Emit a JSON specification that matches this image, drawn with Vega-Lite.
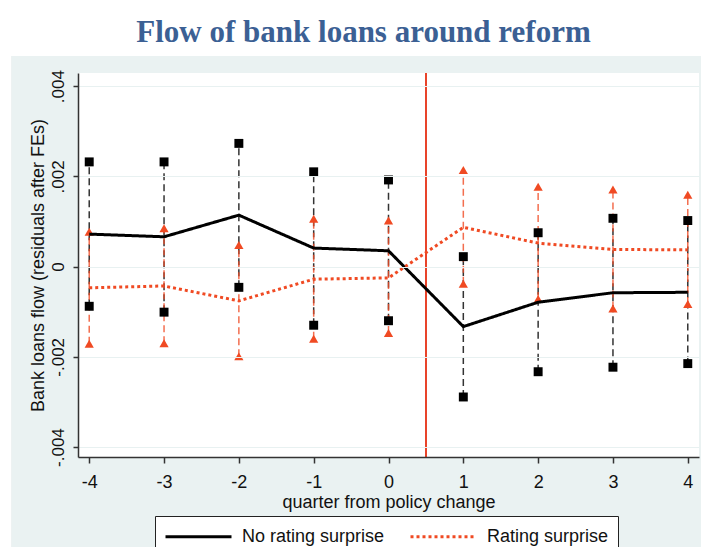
{
  "$schema": "https://vega.github.io/schema/vega-lite/v6.json",
  "width": 621,
  "height": 384,
  "autosize": {"type": "none"},
  "padding": {"left": 78, "top": 73, "right": 2, "bottom": 90},
  "background": "#ffffff",
  "title": {
    "text": "Flow of bank loans around reform",
    "font": "Liberation Serif",
    "fontSize": 31,
    "fontWeight": "bold",
    "color": "#3B6094",
    "anchor": "middle",
    "frame": "group",
    "dx": -25,
    "offset": 7
  },
  "config": {
    "view": {"stroke": null, "fill": "#ffffff"},
    "font": "Liberation Sans",
    "axis": {
      "zindex": 1,
      "domainColor": "#333333",
      "domainWidth": 1.5,
      "tickColor": "#333333",
      "tickWidth": 1.5,
      "labelColor": "#111111",
      "titleColor": "#111111",
      "labelFont": "Liberation Sans",
      "titleFont": "Liberation Sans",
      "titleFontWeight": "normal"
    },
    "legend": {
      "orient": "none",
      "legendX": 77,
      "legendY": 443,
      "direction": "horizontal",
      "fillColor": "#ffffff",
      "strokeColor": "#222222",
      "padding": 9,
      "symbolType": "M-1,0H5.6",
      "symbolSize": 400,
      "symbolStrokeWidth": 3,
      "labelFontSize": 18,
      "labelFont": "Liberation Sans",
      "labelColor": "#111111",
      "labelOffset": 55,
      "columnPadding": 19
    }
  },
  "data": {
    "values": [
      {"q": -4, "series": "No rating surprise", "est": 0.00072, "lo": -0.00088, "hi": 0.00232},
      {"q": -3, "series": "No rating surprise", "est": 0.00066, "lo": -0.00101, "hi": 0.00232},
      {"q": -2, "series": "No rating surprise", "est": 0.00114, "lo": -0.00046, "hi": 0.00273},
      {"q": -1, "series": "No rating surprise", "est": 0.00041, "lo": -0.00130, "hi": 0.00210},
      {"q": 0, "series": "No rating surprise", "est": 0.00035, "lo": -0.00120, "hi": 0.00192},
      {"q": 1, "series": "No rating surprise", "est": -0.00133, "lo": -0.00289, "hi": 0.00022},
      {"q": 2, "series": "No rating surprise", "est": -0.00079, "lo": -0.00233, "hi": 0.00075},
      {"q": 3, "series": "No rating surprise", "est": -0.00058, "lo": -0.00223, "hi": 0.00107},
      {"q": 4, "series": "No rating surprise", "est": -0.00057, "lo": -0.00215, "hi": 0.00102},
      {"q": -4, "series": "Rating surprise", "est": -0.00047, "lo": -0.00171, "hi": 0.00077},
      {"q": -3, "series": "Rating surprise", "est": -0.00043, "lo": -0.00170, "hi": 0.00085},
      {"q": -2, "series": "Rating surprise", "est": -0.00076, "lo": -0.00199, "hi": 0.00048},
      {"q": -1, "series": "Rating surprise", "est": -0.00028, "lo": -0.00160, "hi": 0.00106},
      {"q": 0, "series": "Rating surprise", "est": -0.00025, "lo": -0.00147, "hi": 0.00102},
      {"q": 1, "series": "Rating surprise", "est": 0.00087, "lo": -0.00038, "hi": 0.00214},
      {"q": 2, "series": "Rating surprise", "est": 0.00052, "lo": -0.00072, "hi": 0.00177},
      {"q": 3, "series": "Rating surprise", "est": 0.00038, "lo": -0.00093, "hi": 0.00171},
      {"q": 4, "series": "Rating surprise", "est": 0.00037, "lo": -0.00083, "hi": 0.00159}
    ]
  },
  "encoding": {
    "x": {
      "field": "q",
      "type": "quantitative",
      "scale": {"domain": [-4.15, 4.15], "nice": false, "zero": false},
      "axis": {
        "zindex": 1,
        "values": [-4, -3, -2, -1, 0, 1, 2, 3, 4],
        "labelExpr": "(datum.value < 0 ? '-' : '') + abs(datum.value)",
        "title": "quarter from policy change",
        "grid": false,
        "tickSize": 6,
        "labelPadding": 10,
        "labelFontSize": 18,
        "titleFontSize": 18,
        "titlePadding": 2
      }
    }
  },
  "layer": [
    {
      "description": "graph region backdrop behind the plot",
      "mark": {"type": "rect", "fill": "#EAF2F2", "clip": false},
      "encoding": {
        "x": {"datum": -5.035, "type": "quantitative"},
        "x2": {"datum": 5.5},
        "y": {"datum": 0.004669, "type": "quantitative"},
        "y2": {"datum": -0.009}
      }
    },
    {
      "description": "white plot region",
      "mark": {"type": "rect", "fill": "#ffffff"},
      "encoding": {
        "x": {"value": 0},
        "x2": {"value": "width"},
        "y": {"value": 0},
        "y2": {"value": "height"}
      }
    },
    {
      "description": "policy change marker between quarter 0 and 1",
      "mark": {"type": "rule", "color": "#E8442B", "strokeWidth": 1.6},
      "encoding": {"x": {"datum": 0.5, "type": "quantitative"}}
    },
    {
      "mark": {"type": "rule", "strokeWidth": 1.5, "strokeDash": [7, 4], "opacity": 0.8},
      "encoding": {
        "y": {
          "field": "lo",
          "type": "quantitative",
          "scale": {"domain": [-0.00422, 0.00429], "nice": false, "zero": false},
          "axis": {
            "zindex": 1,
            "values": [-0.004, -0.002, 0, 0.002, 0.004],
            "labelExpr": "datum.value == 0 ? '0' : (datum.value < 0 ? '-' : '') + slice(format(abs(datum.value), '.3f'), 1)",
            "labelAngle": -90,
            "labelAlign": "center",
            "labelBaseline": "bottom",
            "labelFontSize": 17,
            "labelPadding": 6,
            "tickSize": 5,
            "grid": true,
            "gridColor": "#E8F1F1",
            "gridWidth": 1.2,
            "title": "Bank loans flow (residuals after FEs)",
            "titleFontSize": 18,
            "titlePadding": 2
          }
        },
        "y2": {"field": "hi"},
        "color": {
          "condition": {"test": "datum.series == 'Rating surprise'", "value": "#F04A23"},
          "value": "#000000"
        }
      }
    },
    {
      "transform": [{"fold": ["lo", "hi"], "as": ["bound", "val"]}],
      "mark": {"type": "point", "filled": true, "opacity": 1},
      "encoding": {
        "y": {"field": "val", "type": "quantitative"},
        "shape": {
          "condition": {"test": "datum.series == 'Rating surprise'", "value": "triangle-up"},
          "value": "square"
        },
        "size": {
          "condition": {"test": "datum.series == 'Rating surprise'", "value": 85},
          "value": 80
        },
        "color": {
          "condition": {"test": "datum.series == 'Rating surprise'", "value": "#F04A23"},
          "value": "#000000"
        }
      }
    },
    {
      "mark": {"type": "line", "strokeWidth": 3},
      "encoding": {
        "y": {"field": "est", "type": "quantitative"},
        "color": {
          "field": "series",
          "type": "nominal",
          "scale": {"domain": ["No rating surprise", "Rating surprise"], "range": ["#000000", "#F04A23"]},
          "legend": {"title": null}
        },
        "strokeDash": {
          "field": "series",
          "type": "nominal",
          "scale": {"domain": ["No rating surprise", "Rating surprise"], "range": [[1, 0], [3, 3]]},
          "legend": {"title": null}
        }
      }
    }
  ]
}
